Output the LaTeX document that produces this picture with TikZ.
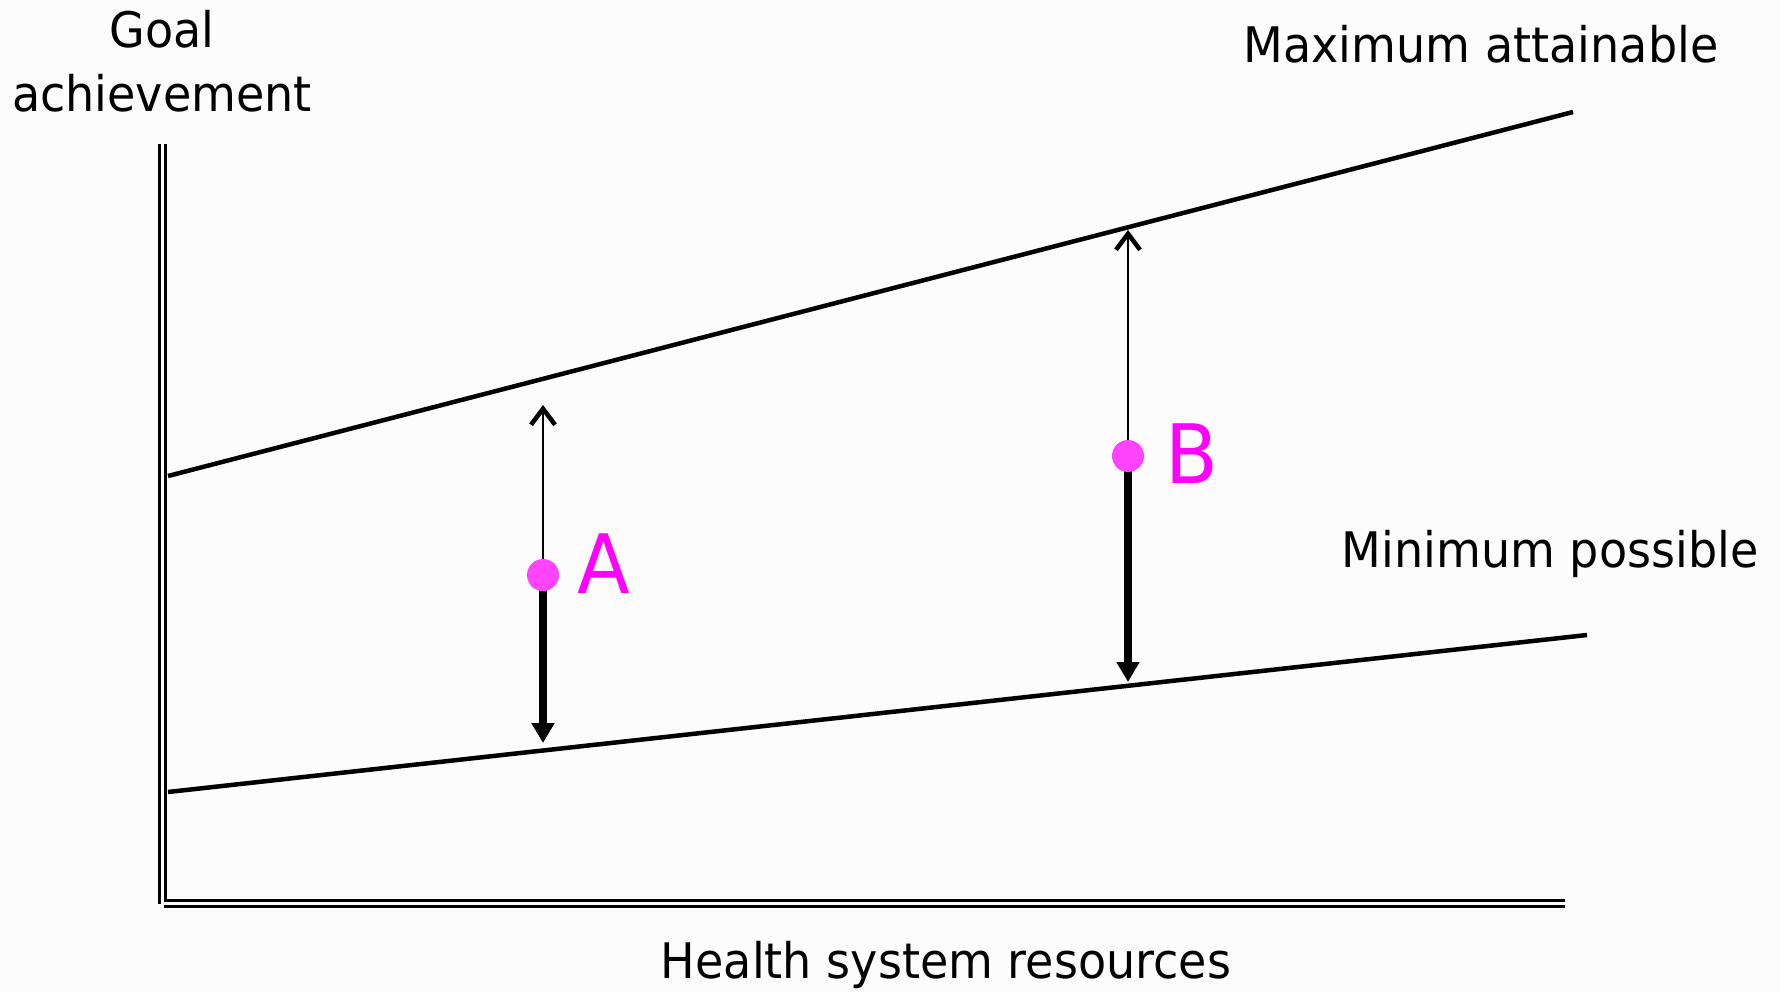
\documentclass[tikz,border=0pt]{standalone}
\usepackage{fontspec}
\setmainfont{DejaVu Sans}[FakeStretch=0.94]
\usepackage{tikz}
\usetikzlibrary{arrows.meta,positioning}
\definecolor{paper}{RGB}{252,252,252}
\definecolor{dotpink}{RGB}{255,68,255}
\definecolor{letterpink}{RGB}{255,0,255}
\tikzset{
  axisline/.style={double=paper,double distance=2.5pt,line width=3pt},
  bound/.style={line width=4.5pt},
  upgap/.style={line width=2.6pt,-{Straight Barb[length=16pt,width=24pt,line width=4.5pt]}},
  downgap/.style={line width=7.5pt,-{Triangle[length=20pt,width=22pt]}},
  pt/.style={circle,fill=dotpink,minimum size=32pt,inner sep=0pt},
  lbl/.style={inner sep=0pt,font=\fontsize{49}{64}\selectfont},
  letter/.style={inner sep=0pt,text=letterpink,font=\fontsize{82}{90}\selectfont}
}

\begin{document}
\begin{tikzpicture}[x=1pt,y=-1pt]
  \fill[paper] (0,0) rectangle (1780,992);
  \useasboundingbox (0,0) rectangle (1780,992);

  % axes
  \coordinate (ytop) at (162.5,144);
  \coordinate (orig) at (162.5,903.5);
  \coordinate (xend) at (1565,903.5);
  \draw[axisline] (ytop) -- (orig);
  \draw[axisline] ([xshift=1pt]orig) -- (xend);

  % max and min lines
  \coordinate (max0) at (168,476);
  \coordinate (max1) at (1573,112);
  \coordinate (min0) at (168,792);
  \coordinate (min1) at (1587,635);
  \draw[bound] (max0) -- (max1);
  \draw[bound] (min0) -- (min1);

  % the two systems
  \coordinate (a) at (543,575);
  \coordinate (aup) at (543,405);
  \coordinate (adown) at (543,743);
  \coordinate (b) at (1128,456);
  \coordinate (bup) at (1128,230);
  \coordinate (bdown) at (1128,682);
  \draw[upgap] (a) -- (aup);
  \draw[downgap] (a) -- (adown);
  \draw[upgap] (b) -- (bup);
  \draw[downgap] (b) -- (bdown);
  \node[pt] (dotA) at (a) {};
  \node[pt] (dotB) at (b) {};
  \node[letter,anchor=base west] (labA) at (577,593) {A};
  \node[letter,anchor=base west] (labB) at (1165,483) {B};

  % labels
  \node[lbl,align=center,anchor=north] (goal) at (162,10.5) {Goal\\achievement};
  \node[lbl,anchor=base] (maxlbl) at (1481,63) {Maximum attainable};
  \node[lbl,anchor=base] (minlbl) at (1550,567) {Minimum possible};
  \node[lbl,anchor=base] (reslbl) at (946,978) {Health system resources};
\end{tikzpicture}
\end{document}
